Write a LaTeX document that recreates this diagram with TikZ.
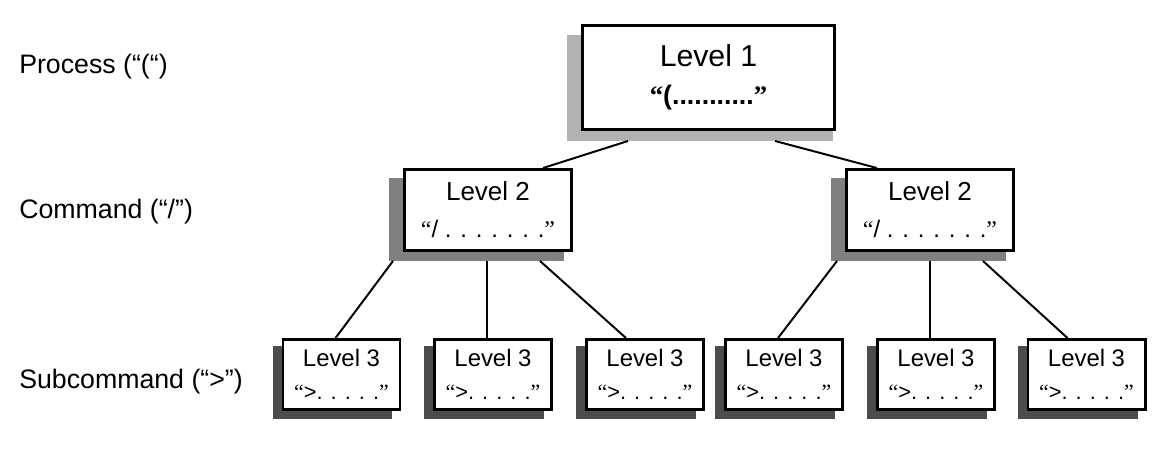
\documentclass[tikz,border=0pt]{standalone}
\usepackage{fontspec}
\setmainfont{Liberation Sans}
\newfontfamily\qfont{Liberation Serif}
\usetikzlibrary{calc,backgrounds}

% typographic quotes as in the original slides
\newcommand\opq{{\qfont “}}
\newcommand\clq{{\qfont ”}}

\tikzset{
  box/.style={draw, line width=2.1pt, fill=white, align=center, inner sep=0pt},
  lvlone/.style={box, minimum width=6.3cm, minimum height=2.6cm},
  lvltwo/.style={box, minimum width=4.175cm, minimum height=2.025cm},
  lvlthree/.style={box, minimum width=2.925cm, minimum height=1.75cm,
    font=\fontsize{17}{19}\selectfont},
  lab/.style={anchor=west, inner sep=0pt, font=\fontsize{19}{22}\selectfont},
  link/.style={line width=1.4pt},
  shadeone/.style={fill=black!30},
  shadetwo/.style={fill=black!50},
  shadethree/.style={fill=black!70}
}

\begin{document}
\begin{tikzpicture}[x=0.025cm, y=-0.025cm]
  \useasboundingbox (0,0) rectangle (1173,450);

  % row labels
  \node[lab] (lproc) at (19,67) {Process (“(“)};
  \node[lab] (lcmd) at (19,212) {Command (“/”)};
  \node[lab] (lsub) at (19,382) {Subcommand (“>”)};

  % level 1
  \node[lvlone] (proc) at (708.5,77.5)
    {{\fontsize{21.5}{24}\selectfont Level 1}\\[12pt]
     {\fontsize{19}{22}\selectfont\bfseries\opq(...........\clq}};

  % level 2
  \node[lvltwo] (cmdA) at (488,210)
    {{\fontsize{18.5}{21}\selectfont Level 2}\\[13pt]
     {\fontsize{17}{20}\selectfont\opq/ . . . . . . .\clq}};
  \node[lvltwo] (cmdB) at (930,210)
    {{\fontsize{18.5}{21}\selectfont Level 2}\\[13pt]
     {\fontsize{17}{20}\selectfont\opq/ . . . . . . .\clq}};

  % level 3
  \node[lvlthree] (subA) at (341.5,374.5) {Level 3\\[4pt]{\fontsize{15.5}{18}\selectfont\opq>. . . . .\clq}};
  \node[lvlthree] (subB) at (493,374.5) {Level 3\\[4pt]{\fontsize{15.5}{18}\selectfont\opq>. . . . .\clq}};
  \node[lvlthree] (subC) at (645,374.5) {Level 3\\[4pt]{\fontsize{15.5}{18}\selectfont\opq>. . . . .\clq}};
  \node[lvlthree] (subD) at (784,374.5) {Level 3\\[4pt]{\fontsize{15.5}{18}\selectfont\opq>. . . . .\clq}};
  \node[lvlthree] (subE) at (936,374.5) {Level 3\\[4pt]{\fontsize{15.5}{18}\selectfont\opq>. . . . .\clq}};
  \node[lvlthree] (subF) at (1086.5,374.5) {Level 3\\[4pt]{\fontsize{15.5}{18}\selectfont\opq>. . . . .\clq}};

  % shadows
  \begin{scope}[on background layer]
    \fill[shadeone] ($(proc.north west)+(-14,11)$) rectangle ($(proc.south east)+(-3,10)$);
    \foreach \n in {cmdA,cmdB}
      \fill[shadetwo] ($(\n.north west)+(-14,10)$) rectangle ($(\n.south east)+(-9,9)$);
    \foreach \n in {subA,subB,subC,subD,subE,subF}
      \fill[shadethree] ($(\n.north west)+(-9,8)$) rectangle ($(\n.south east)+(-9,8)$);
  \end{scope}

  % connectors
  \draw[link] ($(proc.south west)+(47,10)$) -- ($(cmdA.north east)+(-30,0)$);
  \draw[link] ($(proc.south east)+(-61,10)$) -- ($(cmdB.north west)+(32,0)$);

  \draw[link] ($(cmdA.south west)+(-10,9)$) -- ($(subA.north)+(-6,0)$);
  \draw[link] ($(cmdA.south)+(-1,9)$) -- ($(subB.north)+(-6,0)$);
  \draw[link] ($(cmdA.south east)+(-33,9)$) -- ($(subC.north)+(-19,0)$);

  \draw[link] ($(cmdB.south west)+(-8,9)$) -- ($(subD.north)+(-6,0)$);
  \draw[link] ($(cmdB.south)+(0,9)$) -- ($(subE.north)+(-6,0)$);
  \draw[link] ($(cmdB.south east)+(-32,9)$) -- ($(subF.north)+(-19,0)$);
\end{tikzpicture}
\end{document}
